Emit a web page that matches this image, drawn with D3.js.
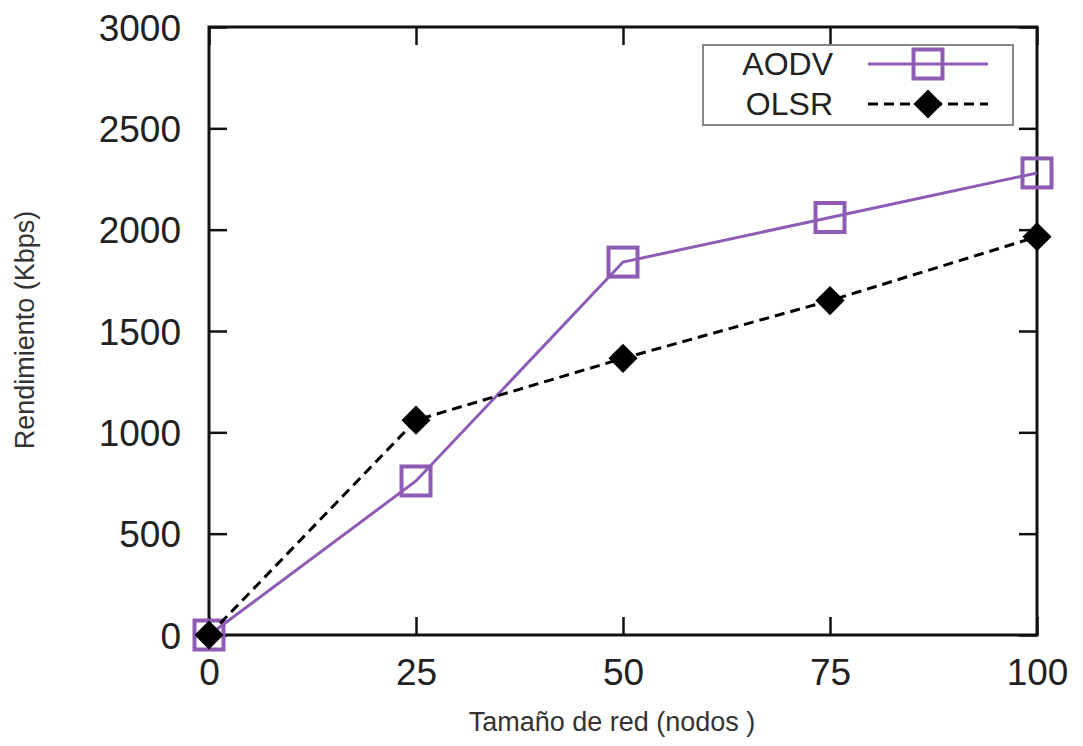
<html>
<head>
	<meta charset="utf-8">
	<script src="https://d3js.org/d3.v7.min.js"></script>
	<style>
		body { margin: 0; background: #fff; }
		text { font-family: "Liberation Sans", Arial, sans-serif; }
	</style>
</head>
<body>
	<script type="text/javascript">
		var width = 1083
		var height = 746

		// data
		var nodes = [0, 25, 50, 75, 100]
		var aodv = [0, 760, 1840, 2060, 2280]
		var olsr = [0, 1060, 1365, 1650, 1965]
		var yTicks = [0, 500, 1000, 1500, 2000, 2500, 3000]

		// plot box (window.top is read-only, so no "top" here)
		var pL = 209, pR = 1037, pT = 27, pB = 635

		var svg = d3.select("body").append("svg")
		  .attr("width", width)
		  .attr("height", height)

		var x = d3.scaleLinear().domain([0, 100]).range([pL, pR])
		var y = d3.scaleLinear().domain([0, 3000]).range([pB, pT])

		// axes with inward ticks, mirrored on top and right
		var xAxis = d3.axisBottom(x).tickValues(nodes).tickSizeInner(-18).tickSizeOuter(0).tickPadding(24)
		var yAxis = d3.axisLeft(y).tickValues(yTicks).tickFormat(d3.format("d"))
		  .tickSizeInner(-18).tickSizeOuter(0).tickPadding(28)

		var gx = svg.append("g").attr("transform", "translate(0," + pB + ")").call(xAxis)
		var gy = svg.append("g").attr("transform", "translate(" + pL + ",0)").call(yAxis)
		svg.append("g").attr("transform", "translate(0," + pT + ")")
		  .call(d3.axisTop(x).tickValues(nodes).tickSizeInner(-18).tickSizeOuter(0).tickFormat(""))
		svg.append("g").attr("transform", "translate(" + pR + ",0)")
		  .call(d3.axisRight(y).tickValues(yTicks).tickSizeInner(-18).tickSizeOuter(0).tickFormat(""))

		svg.selectAll(".domain").remove()
		svg.selectAll(".tick line").attr("stroke", "#111").attr("stroke-width", 2.5)
		svg.selectAll(".tick text").attr("font-size", 37).attr("fill", "#222")
		  .style("font-family", "Liberation Sans, Arial, sans-serif")
		gx.selectAll(".tick text").attr("dy", "0.71em")
		gy.selectAll(".tick text").attr("dy", "0.36em")

		// frame
		svg.append("rect")
		  .attr("x", pL).attr("y", pT)
		  .attr("width", pR - pL).attr("height", pB - pT)
		  .attr("fill", "none").attr("stroke", "#111").attr("stroke-width", 3)

		// axis titles
		svg.append("text")
		  .attr("x", 612).attr("y", 731)
		  .attr("text-anchor", "middle").attr("font-size", 27).attr("fill", "#333")
		  .text("Tamaño de red (nodos )")
		svg.append("text")
		  .attr("transform", "translate(34,330) rotate(-90)")
		  .attr("text-anchor", "middle").attr("font-size", 27).attr("fill", "#333")
		  .text("Rendimiento (Kbps)")

		var purple = "#8e5cb5"
		var line = d3.line().x((d, i) => x(nodes[i])).y(d => y(d))

		// AODV
		svg.append("path").datum(aodv)
		  .attr("d", line).attr("fill", "none")
		  .attr("stroke", purple).attr("stroke-width", 3)
		svg.selectAll(".sq").data(aodv).enter().append("rect")
		  .attr("class", "sq")
		  .attr("x", (d, i) => x(nodes[i]) - 14.5).attr("y", d => y(d) - 14.5)
		  .attr("width", 29).attr("height", 29)
		  .attr("fill", "none").attr("stroke", purple).attr("stroke-width", 4)

		// OLSR
		var diamond = d3.symbol().type(d3.symbolDiamond2).size(540)
		svg.append("path").datum(olsr)
		  .attr("d", line).attr("fill", "none")
		  .attr("stroke", "#000").attr("stroke-width", 3).attr("stroke-dasharray", "10,6")
		svg.selectAll(".dm").data(olsr).enter().append("path")
		  .attr("class", "dm")
		  .attr("d", diamond)
		  .attr("transform", (d, i) => "translate(" + x(nodes[i]) + "," + y(d) + ")")
		  .attr("fill", "#000")

		// legend
		var lg = svg.append("g")
		lg.append("rect")
		  .attr("x", 703).attr("y", 45).attr("width", 310).attr("height", 80)
		  .attr("fill", "#fff").attr("stroke", "#888").attr("stroke-width", 2)
		lg.append("text").attr("x", 833).attr("y", 75).attr("text-anchor", "end")
		  .attr("font-size", 32).attr("fill", "#222").text("AODV")
		lg.append("text").attr("x", 833).attr("y", 115).attr("text-anchor", "end")
		  .attr("font-size", 32).attr("fill", "#222").text("OLSR")
		lg.append("line").attr("x1", 868).attr("x2", 988).attr("y1", 64).attr("y2", 64)
		  .attr("stroke", purple).attr("stroke-width", 3)
		lg.append("rect").attr("x", 913.5).attr("y", 49.5).attr("width", 29).attr("height", 29)
		  .attr("fill", "none").attr("stroke", purple).attr("stroke-width", 4)
		lg.append("line").attr("x1", 868).attr("x2", 988).attr("y1", 104).attr("y2", 104)
		  .attr("stroke", "#000").attr("stroke-width", 3).attr("stroke-dasharray", "10,6")
		lg.append("path").attr("d", diamond).attr("transform", "translate(928,104)").attr("fill", "#000")
	</script>
</body>
</html>
